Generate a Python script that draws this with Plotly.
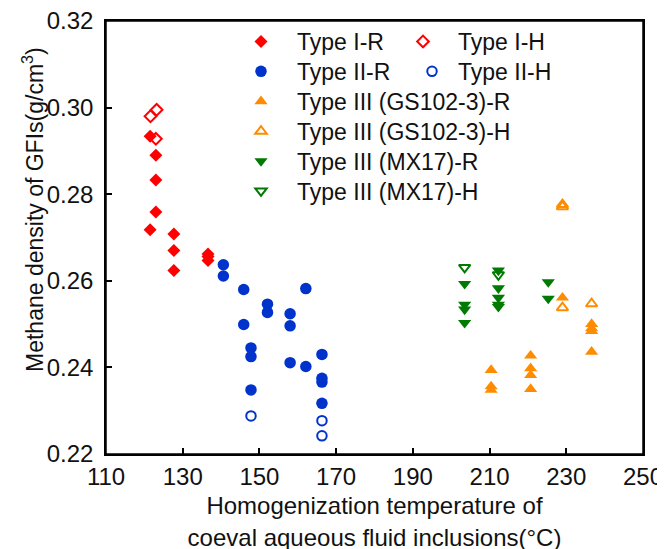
import plotly.graph_objects as go

# ---- data ----
typeI_R_x = [121.5, 123.0, 123.0, 123.0, 121.5, 127.7, 127.7, 127.7, 136.6, 136.6, 136.6]
typeI_R_y = [0.2934, 0.2890, 0.2833, 0.2759, 0.2718, 0.2708, 0.2670, 0.2624, 0.2662, 0.2656, 0.2647]
typeI_H_x = [123.2, 121.6, 123.0]
typeI_H_y = [0.2995, 0.2980, 0.2928]

typeII_R_x = [140.6, 140.6, 145.9, 145.9, 152.1, 152.1, 147.8, 147.8, 147.8,
              158.0, 158.0, 158.0, 162.1, 162.1, 166.3, 166.3, 166.3, 166.3]
typeII_R_y = [0.2637, 0.2611, 0.2580, 0.2499, 0.2546, 0.2527, 0.2445, 0.2425, 0.2348,
              0.2524, 0.2496, 0.2411, 0.2582, 0.2402, 0.2430, 0.2375, 0.2366, 0.2317]
typeII_H_x = [147.8, 166.3, 166.3]
typeII_H_y = [0.2288, 0.2277, 0.2242]

gs_R_x = [210.4, 210.4, 210.4, 220.7, 220.7, 220.7, 220.7, 229.0, 236.6, 236.6, 236.6, 236.6]
gs_R_y = [0.2394, 0.2356, 0.2348, 0.2427, 0.2398, 0.2382, 0.2350, 0.2561, 0.2500, 0.2490, 0.2484, 0.2436]
gs_H_x = [229.0, 229.0, 229.0, 236.6]
gs_H_y = [0.2776, 0.2771, 0.2538, 0.2547]

mx_R_x = [203.5, 203.5, 203.5, 203.5, 212.3, 212.3, 212.3, 212.3, 212.3, 225.3, 225.3]
mx_R_y = [0.2593, 0.2545, 0.2534, 0.2503, 0.2624, 0.2583, 0.2561, 0.2545, 0.2540, 0.2597, 0.2559]
mx_H_x = [203.5, 212.3]
mx_H_y = [0.2631, 0.2614]

x_ticks = [110, 130, 150, 170, 190, 210, 230, 250]
y_ticks = [0.22, 0.24, 0.26, 0.28, 0.30, 0.32]

x_title = "Homogenization temperature of<br>coeval aqueous fluid inclusions(°C)"
y_title = "Methane density of GFIs(g/cm<sup>3</sup>)"

RED = "#FF0000"
BLUE = "#0033CC"
ORANGE = "#FF8C00"
GREEN = "#007A00"

FONT = "Liberation Sans, Arial, sans-serif"

# The page body has an 8px margin, so the figure is laid out 8px up/left.
OFF = 8
W, H = 665, 549
L, R, T, B = 106 - OFF, 22 + OFF, 21 - OFF, 95 + OFF
PW = W - L - R
PH = H - T - B

fig = go.Figure()

# legend rows (one legend per entry so the row spacing matches the reference)
row0, row_step = 41.5, 29.9

# key, left edge (window px), row, item width
legend_defs = [
    ("legend2", 225, 0, 62), ("legend3", 388, 0, 60),
    ("legend4", 225, 1, 62), ("legend5", 406, 1, 42),
    ("legend6", 225, 2, 62), ("legend7", 225, 3, 62),
    ("legend8", 225, 4, 62), ("legend9", 225, 5, 62),
]
legend_layout = {}
for key, cx, row, iw in legend_defs:
    lx = (cx - 106) / PW
    ly = (454 - (row0 + row * row_step)) / PH
    legend_layout[key] = dict(x=lx, y=ly, xanchor="left", yanchor="middle",
                              bgcolor="rgba(0,0,0,0)", borderwidth=0,
                              font=dict(family=FONT, size=23, color="#111"),
                              itemwidth=iw)


def add(x, y, name, symbol, color, size, legend, open_=False):
    marker = dict(symbol=symbol, size=size, color=color)
    if open_:
        marker["line"] = dict(color=color, width=2)
    else:
        marker["line"] = dict(width=0)
    fig.add_trace(go.Scatter(x=x, y=y, mode="markers", name=name, marker=marker,
                             legend=legend, cliponaxis=False))


add(typeI_R_x, typeI_R_y, "Type I-R", "diamond", RED, 10, "legend2")
add(typeI_H_x, typeI_H_y, "Type I-H", "diamond-open", RED, 9, "legend3", True)
add(typeII_R_x, typeII_R_y, "Type II-R", "circle", BLUE, 11.5, "legend4")
add(typeII_H_x, typeII_H_y, "Type II-H", "circle-open", BLUE, 9.5, "legend5", True)
add(gs_R_x, gs_R_y, "Type III (GS102-3)-R", "triangle-up", ORANGE, 11.5, "legend6")
add(gs_H_x, gs_H_y, "Type III (GS102-3)-H", "triangle-up-open", ORANGE, 10, "legend7", True)
add(mx_R_x, mx_R_y, "Type III (MX17)-R", "triangle-down", GREEN, 11.5, "legend8")
add(mx_H_x, mx_H_y, "Type III (MX17)-H", "triangle-down-open", GREEN, 10, "legend9", True)

axis_common = dict(
    showline=True, linecolor="black", linewidth=1.5, mirror=True,
    ticks="inside", ticklen=6, tickwidth=1.5, tickcolor="black",
    showgrid=False, zeroline=False, automargin=False,
    ticklabeloverflow="allow",
    tickfont=dict(family=FONT, size=24, color="#111"),
)

fig.update_layout(
    width=W, height=H,
    margin=dict(l=L, r=R, t=T, b=B),
    paper_bgcolor="white", plot_bgcolor="white",
    font=dict(family=FONT, color="#111"),
    xaxis=dict(range=[110, 250], tickvals=x_ticks, ticktext=[str(v) for v in x_ticks],
               title=dict(text=x_title, font=dict(family=FONT, size=24), standoff=9),
               ticklabelstandoff=0, **axis_common),
    yaxis=dict(range=[0.22, 0.32], tickvals=y_ticks, ticktext=[f"{v:.2f}" for v in y_ticks],
               ticklabelstandoff=6, **axis_common),
    shapes=[dict(type="rect", xref="paper", yref="paper", x0=0, x1=1, y0=0, y1=1,
                 line=dict(color="black", width=1.5), fillcolor="rgba(0,0,0,0)", layer="above")],
    annotations=[dict(text=y_title, textangle=-90, xref="paper", yref="paper",
                      x=(33 - 106) / PW, y=(454 - 210) / PH, xanchor="center", yanchor="middle",
                      showarrow=False, font=dict(family=FONT, size=23, color="#111"))],
    **legend_layout,
)

fig.write_html("out.html")
